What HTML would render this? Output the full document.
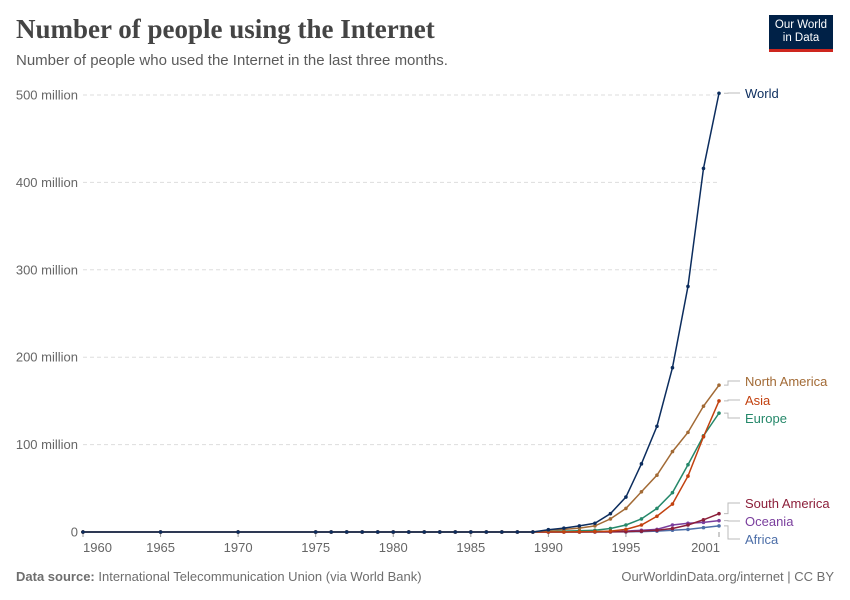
<!DOCTYPE html>
<html><head><meta charset="utf-8"><style>
body{margin:0;background:#fff;font-family:"Liberation Sans",sans-serif;}
#wrap{position:relative;width:850px;height:600px;overflow:hidden;}
.t{position:absolute;}
</style></head><body>
<div id="wrap">
<div class="t" style="left:16px;top:14px;font-family:'Liberation Serif',serif;font-size:27px;font-weight:bold;color:#444;">Number of people using the Internet</div>
<div class="t" style="left:16px;top:52px;font-size:15px;color:#5b5b5b;">Number of people who used the Internet in the last three months.</div>
<div class="t" style="left:769px;top:15px;width:64px;height:37px;background:#002147;border-bottom:3px solid #ce261e;color:#fff;font-size:11.5px;line-height:13px;text-align:center;padding-top:4px;box-sizing:border-box;">Our World<br>in Data</div>
<svg id="chart" width="850" height="600" style="position:absolute;left:0;top:0"></svg>
<div class="t" style="left:16px;top:569px;font-size:13px;color:#6e6e6e;"><b>Data source:</b> International Telecommunication Union (via World Bank)</div>
<div class="t" style="right:16px;top:569px;font-size:13px;color:#6e6e6e;">OurWorldinData.org/internet | CC BY</div>
</div>
<script>
const years=[1960,1965,1970,1975,1976,1977,1978,1979,1980,1981,1982,1983,1984,1985,1986,1987,1988,1989,1990,1991,1992,1993,1994,1995,1996,1997,1998,1999,2000,2001];
const pre=[0,0,0,0,0,0,0,0,0,0,0,0,0,0,0,0,0,0];
const world=pre.concat([2.6,4.4,7,10,21,40,78,121,188,281,416,502]);
const northAmerica=pre.concat([2,3,4.5,7,15,27,46,65,92,114,144,168]);
const asia=pre.concat([0.1,0.2,0.3,0.5,1,3,8,18,32,64,109,150]);
const europe=pre.concat([0.5,1,1.5,2,4,8,15,27,45,77,110,136]);
const southAmerica=pre.concat([0,0,0,0.1,0.2,0.5,1,2,4,8,14,21]);
const oceania=pre.concat([0,0,0,0.1,0.3,1,2,3,8,10,11,13]);
const africa=pre.concat([0,0,0,0,0.1,0.2,0.5,1,2,3,5,7]);
const yTicks=[0,100,200,300,400,500];
const yTickLabels=["0","100 million","200 million","300 million","400 million","500 million"];
const xTicks=[1960,1965,1970,1975,1980,1985,1990,1995,2001];
const series=[
 {name:"Africa",vals:africa,color:"#4c6ea8",ly:539},
 {name:"Oceania",vals:oceania,color:"#7a3e9d",ly:521},
 {name:"South America",vals:southAmerica,color:"#8c1f3a",ly:503},
 {name:"Europe",vals:europe,color:"#25886a",ly:418},
 {name:"Asia",vals:asia,color:"#c2410f",ly:400},
 {name:"North America",vals:northAmerica,color:"#a26a35",ly:381},
 {name:"World",vals:world,color:"#0c2d5e",ly:93}
];
const X=y=>83+(y-1960)*(719-83)/41;
const Y=v=>532-v*(532-95)/500;
const svg=document.getElementById('chart');
const NS="http://www.w3.org/2000/svg";
function mk(t,a){const e=document.createElementNS(NS,t);for(const k in a)e.setAttribute(k,a[k]);svg.appendChild(e);return e;}
yTicks.forEach((v,i)=>{
 if(v>0){const l=mk('line',{x1:83,x2:720,y1:Y(v),y2:Y(v),stroke:'#ddd','stroke-dasharray':'4,3'});
 
 }
 const t=mk('text',{x:78,y:Y(v)+4.5,'text-anchor':'end','font-size':13,fill:'#666','font-family':'Liberation Sans, sans-serif'});
 t.textContent=yTickLabels[i];
 
 
});
xTicks.forEach(y=>{
 const tk=mk('line',{x1:X(y),x2:X(y),y1:532,y2:537,stroke:'#999'});
 
 
 let cx=X(y),anchor='middle';
 if(y===1960){cx=X(y);anchor='start';}
 if(y===2001){cx=X(y)+1;anchor='end';}
 const t=mk('text',{x:cx,y:552,'text-anchor':anchor,'font-size':13,fill:'#666','font-family':'Liberation Sans, sans-serif'});
 t.textContent=y;
 
 
});
series.forEach(s=>{
 const pts=years.map((y,i)=>X(y)+','+Y(s.vals[i])).join(' ');
 const pl=mk('polyline',{points:pts,fill:'none',stroke:s.color,'stroke-width':1.5});
 
 
 years.forEach((y,i)=>{
  const c=mk('circle',{cx:X(y),cy:Y(s.vals[i]),r:1.8,fill:s.color});
  
  
 });
 const ey=Y(s.vals[s.vals.length-1]);
 const cn=mk('polyline',{points:`${X(2001)+5},${ey} ${728},${ey} ${728},${s.ly} ${740},${s.ly}`,fill:'none',stroke:'#bbb','stroke-width':1});
 
 
 const t=mk('text',{x:745,y:s.ly+5,'font-size':13,fill:s.color,'font-family':'Liberation Sans, sans-serif'});
 t.textContent=s.name;
 
 
});
</script>
</body></html>
